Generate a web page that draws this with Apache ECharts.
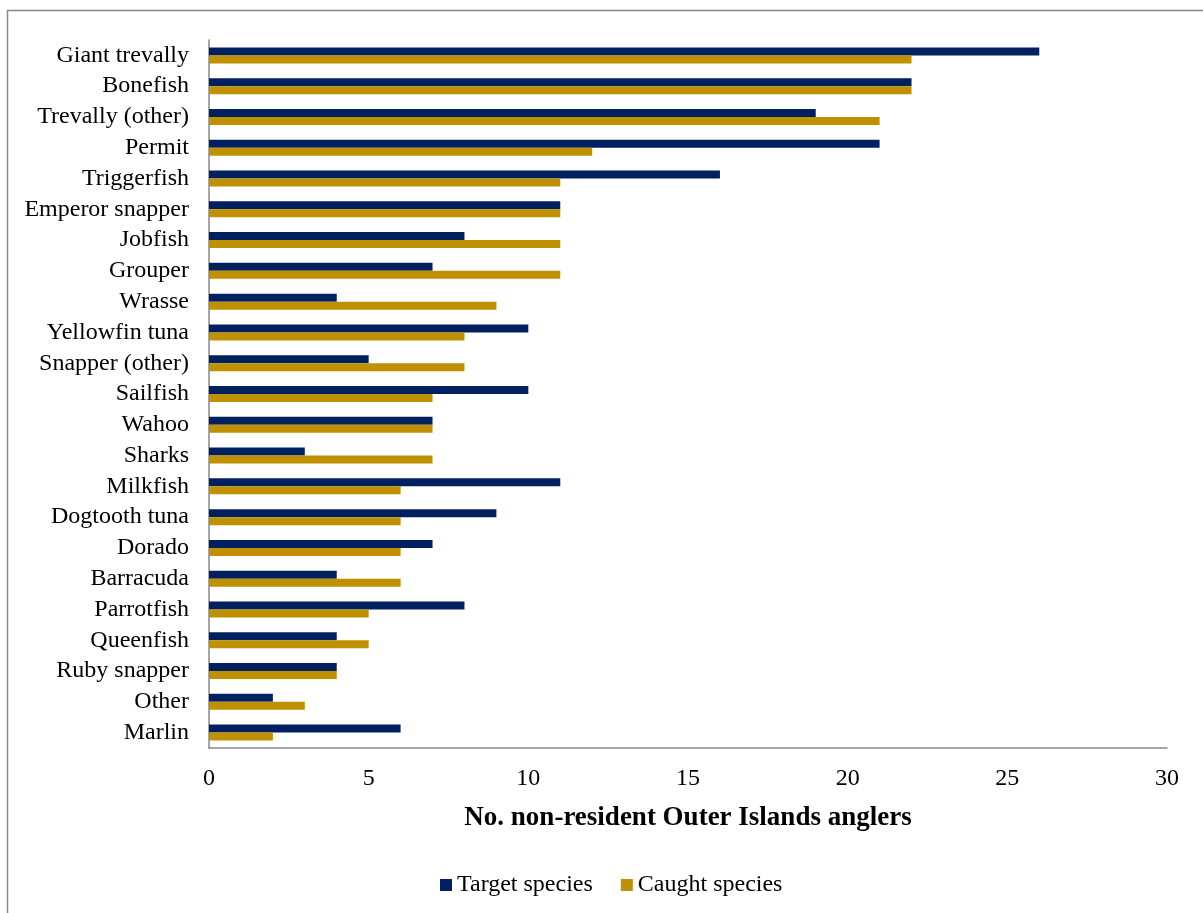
<!DOCTYPE html>
<html>
<head>
<meta charset="utf-8">
<script src="https://cdn.jsdelivr.net/npm/echarts@6/dist/echarts.min.js"></script>
<style>
  html, body { margin: 0; padding: 0; background: #fff; }
  #chart { width: 1203px; height: 913px; }
</style>
</head>
<body>
<div id="chart"></div>
<script>
// Species listed top to bottom
const species = [
  'Giant trevally', 'Bonefish', 'Trevally (other)', 'Permit', 'Triggerfish',
  'Emperor snapper', 'Jobfish', 'Grouper', 'Wrasse', 'Yellowfin tuna',
  'Snapper (other)', 'Sailfish', 'Wahoo', 'Sharks', 'Milkfish',
  'Dogtooth tuna', 'Dorado', 'Barracuda', 'Parrotfish', 'Queenfish',
  'Ruby snapper', 'Other', 'Marlin'
];
const targetSpecies = [26, 22, 19, 21, 16, 11, 8, 7, 4, 10, 5, 10, 7, 3, 11, 9, 7, 4, 8, 4, 4, 2, 6];
const caughtSpecies = [22, 22, 21, 12, 11, 11, 11, 11, 9, 8, 8, 7, 7, 7, 6, 6, 6, 6, 5, 5, 4, 3, 2];
const xTicks = [0, 5, 10, 15, 20, 25, 30];

const serif = '"Liberation Serif", "Times New Roman", serif';
const chart = echarts.init(document.getElementById('chart'));

chart.setOption({
  animation: false,
  backgroundColor: '#ffffff',
  textStyle: { fontFamily: serif, color: '#000' },
  graphic: [{
    type: 'rect',
    shape: { x: 7.5, y: 10.5, width: 1400, height: 1000 },
    style: { fill: 'none', stroke: '#888888', lineWidth: 1.5 },
    silent: true
  }],
  grid: { left: 209, right: 36, top: 40, bottom: 165 },
  legend: {
    top: 868,
    left: 435,
    itemWidth: 12,
    itemHeight: 12,
    itemGap: 28,
    icon: 'rect',
    textStyle: { fontFamily: serif, fontSize: 24, color: '#000' },
    data: ['Target species', 'Caught species']
  },
  xAxis: {
    type: 'value',
    min: xTicks[0],
    max: xTicks[xTicks.length - 1],
    interval: 5,
    name: 'No. non-resident Outer Islands anglers',
    nameLocation: 'middle',
    nameGap: 57,
    nameTextStyle: { fontFamily: serif, fontSize: 27, fontWeight: 'bold', color: '#000' },
    axisLine: { show: true, lineStyle: { color: '#888888', width: 1.5 } },
    axisTick: { show: false },
    splitLine: { show: false },
    axisLabel: { fontFamily: serif, fontSize: 24, color: '#000', margin: 19 }
  },
  yAxis: {
    type: 'category',
    inverse: true,
    data: species,
    axisLine: { show: true, lineStyle: { color: '#888888', width: 1.5 } },
    axisTick: { show: false },
    axisLabel: { interval: 0, fontFamily: serif, fontSize: 24, color: '#000', margin: 20, padding: [2, 0, 0, 0] }
  },
  series: [
    {
      name: 'Target species',
      type: 'bar',
      data: targetSpecies,
      barWidth: 8,
      barGap: '0%',
      itemStyle: { color: '#002060' }
    },
    {
      name: 'Caught species',
      type: 'bar',
      data: caughtSpecies,
      barWidth: 8,
      barGap: '0%',
      itemStyle: { color: '#BF9000' }
    }
  ]
});
</script>
</body>
</html>
